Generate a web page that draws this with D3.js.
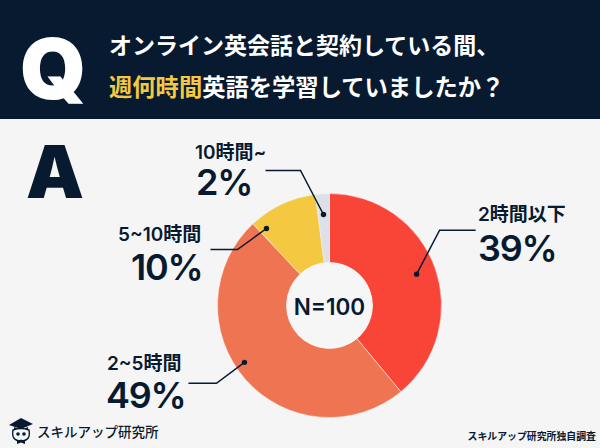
<!DOCTYPE html>
<html><head><meta charset="utf-8">
<script src="https://cdn.jsdelivr.net/npm/d3@7"></script>
<style>
html,body{margin:0;padding:0;background:#f5f5f5}
svg{display:block}
text{font-family:"Inter","Noto Sans CJK JP",sans-serif}
</style></head><body>
<svg id="c" width="600" height="448"></svg>
<script>
const categories=["2時間以下","2~5時間","5~10時間","10時間~"];
const values=[39,49,10,2];
const colors=["#f94438","#ef7552","#f4c840","#dde0e8"];
const navy="#071a30";
const svg=d3.select("#c");
svg.append("rect").attr("width",600).attr("height",448).attr("fill","#f5f5f5");
svg.append("rect").attr("width",600).attr("height",119).attr("fill",navy);

const big=(t,x,y,s,f)=>svg.append("text").attr("x",x).attr("y",y).attr("font-size",s).attr("font-weight",900)
  .attr("fill",f).style("font-family","Inter").text(t);
big("Q",20,99,84,"#fff");
big("A",26,198,73,navy);

const jp='"Noto Sans CJK JP",sans-serif';
svg.append("text").attr("x",109).attr("y",54).attr("font-size",23).attr("font-weight",700).attr("fill","#fff")
  .style("font-family",jp).text("オンライン英会話と契約している間、");
const t2=svg.append("text").attr("x",109).attr("y",96).attr("font-size",23.3).attr("font-weight",700).attr("fill","#fff")
  .style("font-family",jp);
t2.append("tspan").attr("fill","#f4c840").text("週何時間");
t2.append("tspan").text("英語を学習していましたか？");

const cx=329.5,cy=305.5,R=112,r0=43;
const g=svg.append("g").attr("transform",`translate(${cx},${cy})`);
const pie=d3.pie().sort(null).value(d=>d)(values);
const arc=d3.arc().innerRadius(r0).outerRadius(R);
g.selectAll("path").data(pie).join("path").attr("d",arc)
  .attr("fill",(d,i)=>colors[i]).attr("stroke","#f5f5f5").attr("stroke-width",0.5);
g.append("circle").attr("r",r0).attr("fill","#f6f6f6");
g.append("text").attr("text-anchor","middle").attr("y",9.5).attr("font-size",22.5).attr("font-weight",600)
  .attr("fill",navy).text("N=100");

const dotAngle=[0.195,0.6562,0.8908,0.9895].map(t=>t*2*Math.PI);
const dotRadius=[92.6,102.3,99.5,91.2];
const elbowOffset=[[23,-44],[-28,21],[-29,21],[-23,-44]];
const endOffset=[[59,-44],[-56,21],[-56,21],[-58,-44]];
const line=d3.line();
pie.forEach((p,i)=>{
  const a=dotAngle[i];
  const x=Math.sin(a)*dotRadius[i],y=-Math.cos(a)*dotRadius[i];
  g.append("path").attr("fill","none").attr("stroke",navy).attr("stroke-width",1.5)
    .attr("d",line([[x,y],[x+elbowOffset[i][0],y+elbowOffset[i][1]],[x+endOffset[i][0],y+endOffset[i][1]]]));
  g.append("circle").attr("cx",x).attr("cy",y).attr("r",2.7).attr("fill",navy);
});

const labelX=[478,107,118,195], labelY=[221,370,241,159], pctX=[478,106,131,196], pctY=[261,408,280,195];
categories.forEach((c,i)=>{
  svg.append("text").attr("x",labelX[i]).attr("y",labelY[i]).attr("font-size",19).attr("font-weight",600)
    .attr("fill",navy).text(c);
  svg.append("text").attr("x",pctX[i]).attr("y",pctY[i]).attr("font-size",36).attr("font-weight",600)
    .attr("letter-spacing",-1.2).attr("fill",navy).text(values[i]+"%");
});

// logo: graduation-cap owl
const logo=svg.append("g");
logo.append("path").attr("fill",navy).attr("d","M9 425 L21 418 L33 424 L21 429 Z");
logo.append("path").attr("fill",navy).attr("d","M14 427 Q21 431 28 427 L28 430 L14 430 Z");
logo.append("path").attr("fill","#f5f5f5").attr("stroke",navy).attr("stroke-width",1.4)
  .attr("d","M13 430 Q11 441 21 441 Q31 441 29 430 Q21 427 13 430 Z");
[18,24].forEach(x=>logo.append("circle").attr("cx",x).attr("cy",434).attr("r",1.8).attr("fill",navy));
logo.append("path").attr("fill",navy).attr("d","M17 441 L21 439.5 L25 441 L25 444 L21 442.5 L17 444 Z");
svg.append("text").attr("x",37).attr("y",437).attr("font-size",13.5).attr("font-weight",500).attr("fill",navy)
  .style("font-family",jp).text("スキルアップ研究所");
svg.append("text").attr("x",596).attr("y",440).attr("text-anchor","end").attr("font-size",9.9).attr("font-weight",700).attr("fill",navy)
  .style("font-family",jp).text("スキルアップ研究所独自調査");
</script></body></html>
